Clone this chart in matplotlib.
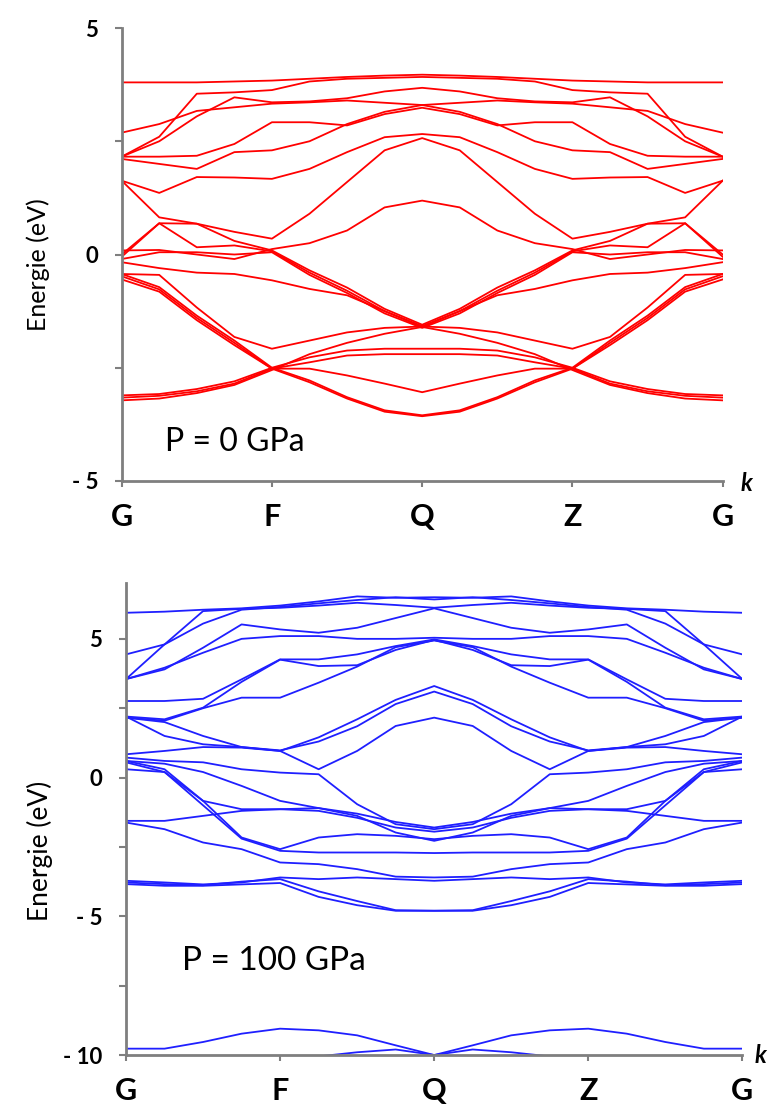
import numpy as np
import matplotlib.pyplot as plt

plt.rcParams['font.family'] = ['Lato', 'DejaVu Sans']

# k path, 4 steps between high-symmetry points
kpoints = np.arange(17)
klabels = ['G', 'F', 'Q', 'Z', 'G']
kticks = [0, 4, 8, 12, 16]

# bands at P = 0 GPa (eV)
bands_0gpa = [
    [3.80, 3.80, 3.80, 3.82, 3.84, 3.88, 3.92, 3.95, 3.97, 3.95, 3.92, 3.88, 3.84, 3.82, 3.80, 3.80, 3.80],
    [2.16, 2.60, 3.55, 3.58, 3.63, 3.82, 3.88, 3.90, 3.92, 3.90, 3.88, 3.82, 3.63, 3.58, 3.55, 2.60, 2.16],
    [2.69, 2.88, 3.17, 3.25, 3.33, 3.36, 3.40, 3.35, 3.30, 3.35, 3.40, 3.36, 3.33, 3.25, 3.17, 2.88, 2.69],
    [2.16, 2.50, 3.05, 3.47, 3.36, 3.38, 3.45, 3.60, 3.68, 3.60, 3.45, 3.38, 3.36, 3.47, 3.05, 2.50, 2.16],
    [2.16, 2.16, 2.18, 2.44, 2.92, 2.92, 2.85, 3.10, 3.24, 3.10, 2.85, 2.92, 2.92, 2.44, 2.18, 2.16, 2.16],
    [2.11, 2.00, 1.89, 2.26, 2.30, 2.50, 2.88, 3.15, 3.30, 3.15, 2.88, 2.50, 2.30, 2.26, 1.89, 2.00, 2.11],
    [1.63, 1.36, 1.71, 1.70, 1.67, 1.89, 2.26, 2.59, 2.66, 2.59, 2.26, 1.89, 1.67, 1.70, 1.71, 1.36, 1.63],
    [1.63, 0.82, 0.68, 0.50, 0.35, 0.90, 1.60, 2.30, 2.57, 2.30, 1.60, 0.90, 0.35, 0.50, 0.68, 0.82, 1.63],
    [0.09, 0.10, 0.00, -0.10, 0.12, 0.25, 0.53, 1.04, 1.19, 1.04, 0.53, 0.25, 0.12, -0.10, 0.00, 0.10, 0.09],
    [0.00, 0.69, 0.68, 0.30, 0.09, -0.35, -0.73, -1.20, -1.55, -1.20, -0.73, -0.35, 0.09, 0.30, 0.68, 0.69, 0.00],
    [-0.05, 0.69, 0.16, 0.20, 0.07, -0.40, -0.80, -1.25, -1.58, -1.25, -0.80, -0.40, 0.07, 0.20, 0.16, 0.69, -0.05],
    [-0.10, 0.05, 0.05, 0.00, 0.05, -0.45, -0.85, -1.30, -1.62, -1.30, -0.85, -0.45, 0.05, 0.00, 0.05, 0.05, -0.10],
    [-0.17, -0.30, -0.40, -0.43, -0.57, -0.76, -0.90, -1.25, -1.60, -1.25, -0.90, -0.76, -0.57, -0.43, -0.40, -0.30, -0.17],
    [-0.43, -0.45, -1.17, -1.82, -2.08, -1.90, -1.72, -1.62, -1.59, -1.62, -1.72, -1.90, -2.08, -1.82, -1.17, -0.45, -0.43],
    [-0.43, -0.72, -1.35, -1.90, -2.50, -2.78, -3.15, -3.44, -3.55, -3.44, -3.15, -2.78, -2.50, -1.90, -1.35, -0.72, -0.43],
    [-0.48, -0.77, -1.40, -1.95, -2.52, -2.82, -3.18, -3.47, -3.57, -3.47, -3.18, -2.82, -2.52, -1.95, -1.40, -0.77, -0.48],
    [-0.55, -0.82, -1.45, -2.00, -2.52, -2.52, -2.67, -2.85, -3.04, -2.85, -2.67, -2.52, -2.52, -2.00, -1.45, -0.82, -0.55],
    [-3.11, -3.08, -2.97, -2.80, -2.50, -2.27, -2.12, -2.08, -2.08, -2.08, -2.12, -2.27, -2.50, -2.80, -2.97, -3.08, -3.11],
    [-3.16, -3.12, -3.02, -2.85, -2.52, -2.38, -2.23, -2.20, -2.20, -2.20, -2.23, -2.38, -2.52, -2.85, -3.02, -3.12, -3.16],
    [-3.22, -3.18, -3.06, -2.88, -2.55, -2.20, -1.95, -1.75, -1.60, -1.75, -1.95, -2.20, -2.55, -2.88, -3.06, -3.18, -3.22],
]

# bands at P = 100 GPa (eV)
bands_100gpa = [
    [5.94, 5.98, 6.05, 6.10, 6.20, 6.35, 6.53, 6.48, 6.50, 6.48, 6.53, 6.35, 6.20, 6.10, 6.05, 5.98, 5.94],
    [4.44, 4.80, 5.55, 6.05, 6.15, 6.28, 6.40, 6.50, 6.42, 6.50, 6.40, 6.28, 6.15, 6.05, 5.55, 4.80, 4.44],
    [3.55, 4.80, 6.00, 6.08, 6.12, 6.20, 6.30, 6.22, 6.12, 6.22, 6.30, 6.20, 6.12, 6.08, 6.00, 4.80, 3.55],
    [3.55, 3.90, 4.68, 5.52, 5.34, 5.22, 5.40, 5.75, 6.10, 5.75, 5.40, 5.22, 5.34, 5.52, 4.68, 3.90, 3.55],
    [3.55, 3.96, 4.50, 5.00, 5.10, 5.10, 5.00, 5.00, 5.04, 5.00, 5.00, 5.10, 5.10, 5.00, 4.50, 3.96, 3.55],
    [2.76, 2.76, 2.84, 3.54, 4.26, 4.26, 4.44, 4.74, 4.98, 4.74, 4.44, 4.26, 4.26, 3.54, 2.84, 2.76, 2.76],
    [2.20, 2.10, 2.52, 3.45, 4.25, 4.02, 4.05, 4.60, 4.96, 4.60, 4.05, 4.02, 4.25, 3.45, 2.52, 2.10, 2.20],
    [2.16, 2.05, 2.50, 2.88, 2.88, 3.42, 4.00, 4.70, 4.94, 4.70, 4.00, 3.42, 2.88, 2.88, 2.50, 2.05, 2.16],
    [2.20, 1.50, 1.20, 1.10, 0.96, 1.45, 2.10, 2.80, 3.30, 2.80, 2.10, 1.45, 0.96, 1.10, 1.20, 1.50, 2.20],
    [2.16, 2.00, 1.50, 1.10, 0.98, 1.30, 1.85, 2.65, 3.10, 2.65, 1.85, 1.30, 0.98, 1.10, 1.50, 2.00, 2.16],
    [0.84, 0.96, 1.10, 1.08, 0.96, 0.30, 0.96, 1.86, 2.16, 1.86, 0.96, 0.30, 0.96, 1.08, 1.10, 0.96, 0.84],
    [0.72, 0.60, 0.55, 0.30, 0.18, 0.12, -0.96, -1.68, -1.86, -1.68, -0.96, 0.12, 0.18, 0.30, 0.55, 0.60, 0.72],
    [0.60, 0.50, 0.20, -0.30, -0.84, -1.10, -1.30, -1.60, -1.80, -1.60, -1.30, -1.10, -0.84, -0.30, 0.20, 0.50, 0.60],
    [0.30, 0.20, -0.84, -1.14, -1.14, -1.20, -1.45, -1.80, -1.95, -1.80, -1.45, -1.20, -1.14, -1.14, -0.84, 0.20, 0.30],
    [0.60, 0.30, -0.84, -2.16, -2.58, -2.16, -2.04, -2.10, -2.22, -2.10, -2.04, -2.16, -2.58, -2.16, -0.84, 0.30, 0.60],
    [0.55, 0.20, -1.00, -2.20, -2.64, -2.70, -2.70, -2.70, -2.72, -2.70, -2.70, -2.70, -2.64, -2.20, -1.00, 0.20, 0.55],
    [-1.56, -1.56, -1.38, -1.20, -1.14, -1.10, -1.38, -1.98, -2.28, -1.98, -1.38, -1.10, -1.14, -1.20, -1.38, -1.56, -1.56],
    [-1.62, -1.86, -2.34, -2.58, -3.06, -3.12, -3.30, -3.57, -3.60, -3.57, -3.30, -3.12, -3.06, -2.58, -2.34, -1.86, -1.62],
    [-3.72, -3.78, -3.85, -3.78, -3.60, -3.66, -3.60, -3.66, -3.72, -3.66, -3.60, -3.66, -3.60, -3.78, -3.85, -3.78, -3.72],
    [-3.84, -3.90, -3.90, -3.85, -3.80, -4.30, -4.60, -4.80, -4.80, -4.80, -4.60, -4.30, -3.80, -3.85, -3.90, -3.90, -3.84],
    [-3.78, -3.84, -3.88, -3.75, -3.66, -4.10, -4.45, -4.78, -4.80, -4.78, -4.45, -4.10, -3.66, -3.75, -3.88, -3.84, -3.78],
    [-9.77, -9.77, -9.53, -9.23, -9.05, -9.11, -9.29, -9.65, -10.0, -9.65, -9.29, -9.11, -9.05, -9.23, -9.53, -9.77, -9.77],
    [-10.6, -10.6, -10.5, -10.4, -10.3, -10.05, -9.90, -9.80, -10.0, -9.80, -9.90, -10.05, -10.3, -10.4, -10.5, -10.6, -10.6],
]


def style_axes(ax, ylim, yticks, ylabels, yminor, labelsize):
    ax.set_xlim(0, 16)
    ax.set_ylim(*ylim)
    for s in ['top', 'right']:
        ax.spines[s].set_visible(False)
    for s in ['left', 'bottom']:
        ax.spines[s].set_color('#7f7f7f')
        ax.spines[s].set_linewidth(2)
    ax.set_xticks(kticks)
    ax.set_xticklabels(klabels, fontsize=22, fontweight='bold')
    ax.set_yticks(yticks)
    ax.set_yticklabels(ylabels, fontsize=16, fontweight='bold')
    ax.set_yticks(yminor, minor=True)
    ax.tick_params(axis='x', direction='out', length=4, width=1.5, color='#7f7f7f', pad=12)
    ax.tick_params(axis='y', which='both', direction='out', length=5, width=1.5, color='#7f7f7f', pad=12)
    ax.set_ylabel('Energie (eV)', fontsize=labelsize)


fig = plt.figure(figsize=(7.77, 11.08), dpi=100)

ax1 = fig.add_axes([0.1566, 0.5659, 0.7735, 0.4088])
for b in bands_0gpa:
    ax1.plot(kpoints, b, color='#ff0000', lw=1.3)
style_axes(ax1, (-5, 5), [-5, 0, 5], ['- 5', '0', '5'], [-2.5, 2.5], 18)
ax1.yaxis.set_label_coords(-0.12, 0.477)
ax1.text(1.15, -4.15, 'P = 0 GPa', fontsize=23, va='center', ha='left')
ax1.text(1.04, -0.005, 'k', transform=ax1.transAxes, fontsize=17,
         fontweight='bold', fontstyle='italic', va='center', ha='center')

ax2 = fig.add_axes([0.1622, 0.0478, 0.7932, 0.4257])
for b in bands_100gpa:
    ax2.plot(kpoints, b, color='#1f1fff', lw=1.3)
style_axes(ax2, (-10, 7), [-10, -5, 0, 5], ['- 10', '- 5', '0', '5'], [-7.5, -2.5, 2.5], 19)
ax2.yaxis.set_label_coords(-0.118, 0.432)
ax2.text(1.45, -6.6, 'P = 100 GPa', fontsize=24, va='center', ha='left')
ax2.text(1.03, 0.0, 'k', transform=ax2.transAxes, fontsize=17,
         fontweight='bold', fontstyle='italic', va='center', ha='center')

plt.savefig('out.png', dpi=100)
